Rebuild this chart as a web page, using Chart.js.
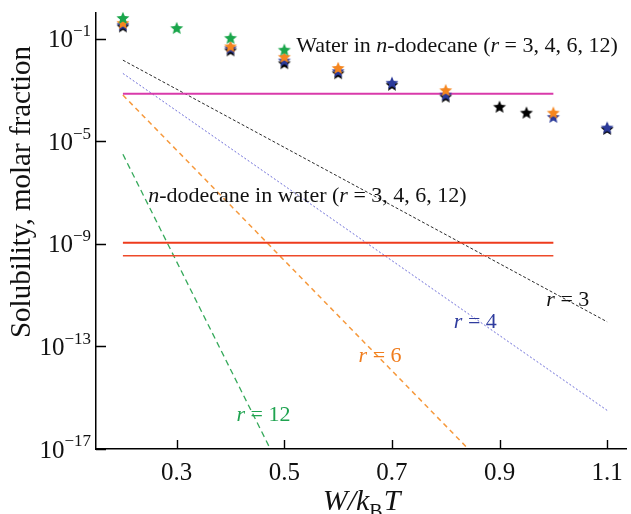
<!DOCTYPE html>
<html>
<head>
<meta charset="utf-8">
<script src="https://cdn.jsdelivr.net/npm/chart.js@4.4.0/dist/chart.umd.min.js"></script>
<style>
  html, body { margin: 0; padding: 0; background: #fff; }
  #wrap { width: 631px; height: 514px; position: relative; }
</style>
</head>
<body>
<div id="wrap"><canvas id="solub"></canvas></div>
<script>
// W/kBT of the simulated points (stars)
const wPoints = [0.2, 0.3, 0.4, 0.5, 0.6, 0.7, 0.8, 0.9, 0.95, 1.0, 1.1];
// water in n-dodecane, molar fraction (null = no star)
const waterR3  = [0.30, null, 0.035, 0.011, 0.0045, 0.0016, 0.00055, 0.00022, 0.00013, null, 0.000030];
const waterR4  = [0.35, null, 0.042, 0.014, 0.0054, 0.0019, 0.00066, null, null, 0.000089, 0.000034];
const waterR6  = [0.41, null, 0.050, 0.0195, 0.0072, null, 0.00098, null, null, 0.00013, null];
const waterR12 = [0.64, 0.26, 0.107, 0.037, null, null, null, null, null, null, null];

// experimental levels (horizontal lines)
const expRange = [0.2, 1.0];
const expWater = 7.1e-4;
const expDodecaneHi = 1.1e-9;
const expDodecaneLo = 3.4e-10;

// theory for n-dodecane in water (dashed lines), ends of each line
const theoryR3  = [[0.2, 1.45e-2], [1.1, 9.1e-13]];
const theoryR4  = [[0.2, 4.4e-3], [1.1, 3.2e-16]];
const theoryR6  = [[0.2, 6.3e-4], [0.842, 1e-17]];
const theoryR12 = [[0.2, 3.1e-6], [0.474, 1e-17]];

const xTicks = [0.3, 0.5, 0.7, 0.9, 1.1];
const yTicks = [1e-1, 1e-5, 1e-9, 1e-13, 1e-17];
const yExps = ['\u22121', '\u22125', '\u22129', '\u221213', '\u221217'];

const SERIF = '"Liberation Serif", "Times New Roman", serif';

function pts(xs, ys) {
    return xs.map((x, i) => ({ x: x, y: ys[i] })).filter(p => p.y !== null);
}

function starIcon(color, r) {
    const c = document.createElement('canvas');
    const s = Math.ceil(r * 2 + 2);
    c.width = s; c.height = s;
    const g = c.getContext('2d');
    g.translate(s / 2, s / 2 + 0.5);
    g.beginPath();
    for (let i = 0; i < 10; i++) {
        const rad = i % 2 === 0 ? r : r * 0.45;
        const a = -Math.PI / 2 + i * Math.PI / 5;
        g.lineTo(rad * Math.cos(a), rad * Math.sin(a));
    }
    g.closePath();
    g.fillStyle = color;
    g.fill();
    return c;
}

function starSet(ys, color, order) {
    return {
        data: pts(wPoints, ys),
        pointStyle: starIcon(color, 6.8),
        showLine: false,
        order: order,
        clip: false
    };
}

function lineSet(ends, color, width, dash) {
    return {
        data: ends.map(p => ({ x: p[0], y: p[1] })),
        showLine: true,
        borderColor: color,
        borderWidth: width,
        borderDash: dash,
        pointRadius: 0,
        order: 10
    };
}

// draw text made of [text, italic] parts, left aligned
function drawRich(ctx, parts, x, y, size, color) {
    ctx.fillStyle = color;
    ctx.textBaseline = 'middle';
    ctx.textAlign = 'left';
    parts.forEach(p => {
        ctx.font = (p[1] ? 'italic ' : '') + size + 'px ' + SERIF;
        ctx.fillText(p[0], x, y);
        x += ctx.measureText(p[0]).width;
    });
}

const axisText = {
    id: 'axisText',
    afterDraw(chart) {
        const { ctx, chartArea: a, scales: { x, y } } = chart;
        ctx.save();
        ctx.strokeStyle = '#000';
        ctx.lineWidth = 1.4;
        ctx.beginPath();
        xTicks.forEach(v => {
            const px = Math.round(x.getPixelForValue(v)) + 0.5;
            ctx.moveTo(px, a.bottom); ctx.lineTo(px, a.bottom - 9);
        });
        yTicks.forEach(v => {
            const py = Math.round(y.getPixelForValue(v)) + 0.5;
            ctx.moveTo(a.left, py); ctx.lineTo(a.left + 10, py);
        });
        ctx.stroke();

        // x tick labels
        ctx.fillStyle = '#111';
        ctx.font = '25px ' + SERIF;
        ctx.textAlign = 'center';
        ctx.textBaseline = 'middle';
        xTicks.forEach(v => ctx.fillText(v.toFixed(1), x.getPixelForValue(v), 473));

        // y tick labels 10^n
        yTicks.forEach((v, i) => {
            const py = y.getPixelForValue(v);
            ctx.textAlign = 'right';
            ctx.font = '17px ' + SERIF;
            const ew = ctx.measureText(yExps[i]).width;
            ctx.fillText(yExps[i], 91, py - 7);
            ctx.font = '25px ' + SERIF;
            ctx.fillText('10', 91 - ew, py + 2);
        });

        // y title
        ctx.save();
        ctx.translate(22, 192);
        ctx.rotate(-Math.PI / 2);
        ctx.font = '29px ' + SERIF;
        ctx.textAlign = 'center';
        ctx.fillText('Solubility, molar fraction', 0, 0);
        ctx.restore();

        // x title W/k_B T
        ctx.textBaseline = 'alphabetic';
        ctx.textAlign = 'left';
        ctx.font = 'italic 30px ' + SERIF;
        const w1 = ctx.measureText('W/k').width;
        const w3 = ctx.measureText('T').width;
        ctx.font = '20px ' + SERIF;
        const w2 = ctx.measureText('B').width;
        let tx = 361 - (w1 + w2 + w3) / 2;
        ctx.font = 'italic 30px ' + SERIF;
        ctx.fillText('W/k', tx, 510);
        ctx.font = '20px ' + SERIF;
        ctx.fillText('B', tx + w1, 518);
        ctx.font = 'italic 30px ' + SERIF;
        ctx.fillText('T', tx + w1 + w2 + 1, 510);

        // annotations
        const at = (vx, vy) => [x.getPixelForValue(vx), y.getPixelForValue(vy)];
        let p = at(0.522, 0.05);
        drawRich(ctx, [['Water in ', false], ['n', true], ['-dodecane (', false], ['r', true], [' = 3, 4, 6, 12)', false]], p[0], p[1], 22, '#111');
        p = at(0.247, 7.1e-8);
        drawRich(ctx, [['n', true], ['-dodecane in water (', false], ['r', true], [' = 3, 4, 6, 12)', false]], p[0], p[1], 22, '#111');
        p = at(0.987, 6.3e-12);
        drawRich(ctx, [['r', true], [' = 3', false]], p[0], p[1], 22, '#111');
        p = at(0.815, 9.1e-13);
        drawRich(ctx, [['r', true], [' = 4', false]], p[0], p[1], 22, '#2f3c9e');
        p = at(0.638, 4.2e-14);
        drawRich(ctx, [['r', true], [' = 6', false]], p[0], p[1], 22, '#f07d1e');
        p = at(0.411, 2.1e-16);
        drawRich(ctx, [['r', true], [' = 12', false]], p[0], p[1], 22, '#1fa350');
        ctx.restore();
    }
};

const ctx = document.getElementById('solub').getContext('2d');
new Chart(ctx, {
    type: 'scatter',
    data: {
        datasets: [
            starSet(waterR12, '#1aa64b', 1),
            starSet(waterR6, '#f5861f', 2),
            starSet(waterR4, '#2b3a9a', 3),
            starSet(waterR3, '#000000', 4),
            lineSet([[expRange[0], expWater], [expRange[1], expWater]], '#d93aaa', 2, []),
            lineSet([[expRange[0], expDodecaneHi], [expRange[1], expDodecaneHi]], '#ee3b1c', 2, []),
            lineSet([[expRange[0], expDodecaneLo], [expRange[1], expDodecaneLo]], '#ee4a2a', 1.5, []),
            lineSet(theoryR3, '#2a2a2a', 1, [3, 2]),
            lineSet(theoryR4, '#6f6fd8', 1, [2, 2]),
            lineSet(theoryR6, '#f6993c', 1.5, [5, 4]),
            lineSet(theoryR12, '#35a95a', 1.3, [6, 4])
        ]
    },
    options: {
        responsive: true,
        maintainAspectRatio: false,
        animation: false,
        layout: { padding: { top: 13, right: 3, left: 0, bottom: 0 } },
        plugins: { legend: { display: false }, tooltip: { enabled: false } },
        scales: {
            x: {
                type: 'linear',
                min: 0.15,
                max: 1.135,
                afterBuildTicks: s => { s.ticks = xTicks.map(v => ({ value: v })); },
                afterFit: s => { s.height = 65; },
                ticks: { display: false },
                grid: { drawOnChartArea: false, drawTicks: false },
                border: { color: '#000', width: 1.5 }
            },
            y: {
                type: 'logarithmic',
                min: 1e-17,
                max: 1,
                afterBuildTicks: s => { s.ticks = yTicks.map(v => ({ value: v })); },
                afterFit: s => { s.width = 96; },
                ticks: { display: false },
                grid: { drawOnChartArea: false, drawTicks: false },
                border: { color: '#000', width: 1.5 }
            }
        }
    },
    plugins: [axisText]
});
</script>
</body>
</html>
